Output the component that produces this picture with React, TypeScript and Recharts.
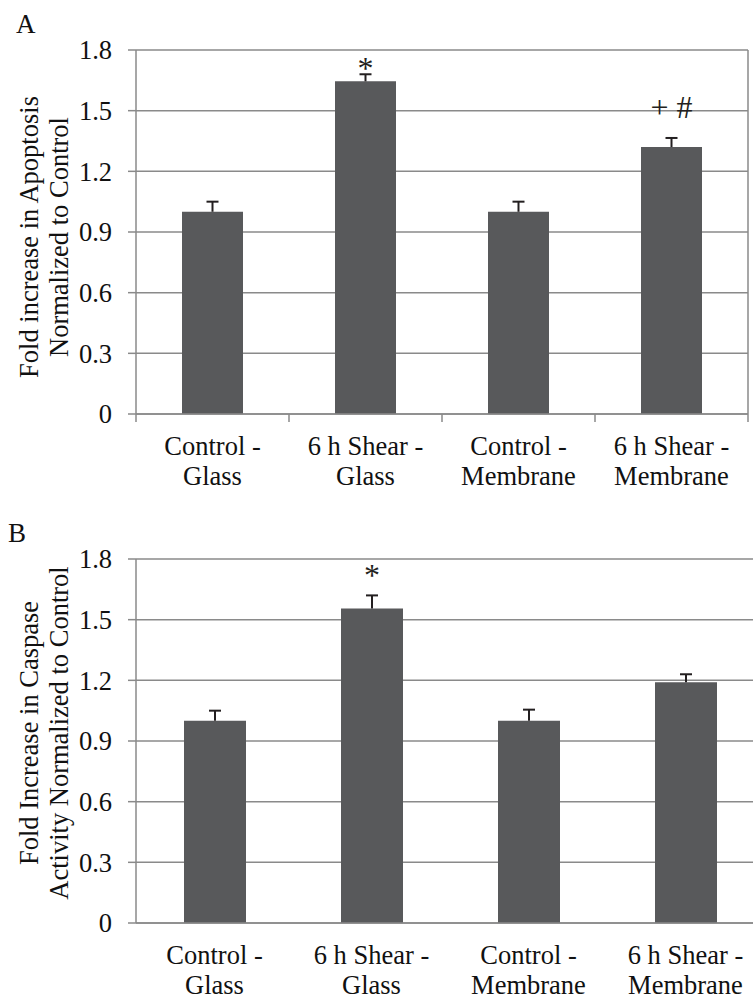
import React from 'react';
import { BarChart, Bar, XAxis, YAxis, CartesianGrid, LabelList, ReferenceLine } from 'recharts';

const categoryLine1 = ['Control -', '6 h Shear -', 'Control -', '6 h Shear -'];
const categoryLine2 = ['Glass', 'Glass', 'Membrane', 'Membrane'];
const yTicks = [0, 0.3, 0.6, 0.9, 1.2, 1.5, 1.8];

const apoptosisValues = [1.0, 1.645, 1.0, 1.32];
const apoptosisErrors = [0.05, 0.035, 0.05, 0.045];
const apoptosisMarks = ['', '*', '', '+ #'];
const apoptosisTitle = ['Fold increase in Apoptosis', 'Normalized to Control'];

const caspaseValues = [1.0, 1.555, 1.0, 1.19];
const caspaseErrors = [0.05, 0.065, 0.055, 0.04];
const caspaseMarks = ['', '*', '', ''];
const caspaseTitle = ['Fold Increase in Caspase', 'Activity Normalized to Control'];

const FONT = 'Liberation Serif';
const GRID = '#8a8a8a';
const BAR = '#58595b';
const INK = '#231f20';
const FS = 26.5;

function buildRows(values: number[], errors: number[], marks: string[]) {
  return categoryLine1.map((l1, i) => ({
    name: `${l1} ${categoryLine2[i]}`,
    value: values[i],
    err: errors[i],
    mark: marks[i],
  }));
}

const CategoryTick = (props: any) => {
  const { x, y, index, width, visibleTicksCount, boundary } = props;
  const n = visibleTicksCount || categoryLine1.length;
  const half = (width || 612) / n / 2;
  return (
    <g>
      {boundary && (
        <line x1={x - half} x2={x - half} y1={y} y2={y + 8} stroke={GRID} strokeWidth={1.5} />
      )}
      {boundary && index === n - 1 && (
        <line x1={x + half} x2={x + half} y1={y} y2={y + 8} stroke={GRID} strokeWidth={1.5} />
      )}
      <text x={x} y={y + 41} textAnchor="middle" fontFamily={FONT} style={{ fontFamily: FONT }} fontSize={FS} fill="#111">
        {categoryLine1[index]}
      </text>
      <text x={x} y={y + 71} textAnchor="middle" fontFamily={FONT} style={{ fontFamily: FONT }} fontSize={FS} fill="#111">
        {categoryLine2[index]}
      </text>
    </g>
  );
};

const makeYLabel = (lines: string[], shift: number) => (p: any) => {
  const vb = p.viewBox || { x: 0, y: 50, width: 136, height: 364 };
  const cy = vb.y + vb.height / 2 + shift;
  return (
    <g>
      {lines.map((t, i) => {
        const bx = vb.x + 38 + i * 30;
        return (
          <text
            key={i}
            x={bx}
            y={cy}
            transform={`rotate(-90, ${bx}, ${cy})`}
            textAnchor="middle"
            fontFamily={FONT}
            style={{ fontFamily: FONT }}
            fontSize={FS}
            fill="#111"
          >
            {t}
          </text>
        );
      })}
    </g>
  );
};

// error bar (upper half only) + significance mark, placed through the bar's own scaled geometry
const makeOverlay = (values: number[], errors: number[], marks: string[], dys: number[]) => (p: any) => {
  const { x, y, width, height, index } = p;
  const pxPerUnit = height / values[index];
  const errTop = y - errors[index] * pxPerUnit;
  const cx = x + width / 2;
  const text = marks[index];
  return (
    <g>
      <line x1={cx} x2={cx} y1={y} y2={errTop} stroke={INK} strokeWidth={2} />
      <line x1={cx - 6} x2={cx + 6} y1={errTop} y2={errTop} stroke={INK} strokeWidth={2} />
      {text ? (
        <text
          x={cx}
          y={errTop + dys[index]}
          textAnchor="middle"
          fontFamily={FONT}
          style={{ fontFamily: FONT }}
          fontSize={32}
          fill={INK}
        >
          {text}
        </text>
      ) : null}
    </g>
  );
};

type PanelProps = {
  values: number[];
  errors: number[];
  marks: string[];
  markDy: number[];
  title: string[];
  titleShift: number;
  width: number;
  barSize: number;
  boundary: boolean;
  rightBorder: boolean;
};

const Panel = (pp: PanelProps) => {
  const rows = buildRows(pp.values, pp.errors, pp.marks);
  return (
    <BarChart
      width={pp.width}
      height={500}
      data={rows}
      margin={{ top: 50, right: 5, bottom: 0, left: 0 }}
      barSize={pp.barSize}
    >
      <CartesianGrid vertical={false} stroke={GRID} strokeWidth={1.5} />
      <XAxis
        dataKey="name"
        height={86}
        tickLine={false}
        tickSize={0}
        tickMargin={0}
        interval={0}
        axisLine={{ stroke: GRID, strokeWidth: 1.5 }}
        tick={<CategoryTick boundary={pp.boundary} />}
      />
      <YAxis
        type="number"
        domain={[0, 1.8]}
        ticks={yTicks}
        interval={0}
        width={136}
        tickSize={8}
        tickMargin={16}
        tickFormatter={(v: number) => (v === 0 ? '0' : v.toFixed(1))}
        tick={{ fontFamily: FONT, fontSize: FS, fill: '#111', style: { fontFamily: FONT } }}
        tickLine={{ stroke: GRID, strokeWidth: 1.5 }}
        axisLine={{ stroke: GRID, strokeWidth: 1.5 }}
        label={{ content: makeYLabel(pp.title, pp.titleShift) }}
      />
      {pp.rightBorder && (
        <ReferenceLine x={rows[rows.length - 1].name} position="end" stroke={GRID} strokeWidth={1.5} />
      )}
      <Bar dataKey="value" fill={BAR} isAnimationActive={false}>
        <LabelList dataKey="mark" content={makeOverlay(pp.values, pp.errors, pp.marks, pp.markDy)} />
      </Bar>
    </BarChart>
  );
};

export default function App() {
  return (
    <div
      style={{
        position: 'absolute',
        left: 0,
        top: 0,
        width: 753,
        height: 997,
        overflow: 'hidden',
        background: '#fff',
        fontFamily: FONT,
      }}
    >
      <svg width={753} height={997} style={{ position: 'absolute', left: 0, top: 0 }}>
        <text x={16} y={33} fontFamily={FONT} style={{ fontFamily: FONT }} fontSize={27} fill="#111">A</text>
        <text x={8} y={542} fontFamily={FONT} style={{ fontFamily: FONT }} fontSize={27} fill="#111">B</text>
      </svg>
      <div style={{ position: 'absolute', left: 0, top: 0 }}>
        <Panel
          values={apoptosisValues}
          errors={apoptosisErrors}
          marks={apoptosisMarks}
          markDy={[0, 5, 0, -20]}
          title={apoptosisTitle}
          titleShift={5}
          width={753}
          barSize={61}
          boundary={true}
          rightBorder={true}
        />
      </div>
      <div style={{ position: 'absolute', left: 0, top: 509 }}>
        <Panel
          values={caspaseValues}
          errors={caspaseErrors}
          marks={caspaseMarks}
          markDy={[0, -9, 0, 0]}
          title={caspaseTitle}
          titleShift={-8}
          width={769}
          barSize={62}
          boundary={false}
          rightBorder={false}
        />
      </div>
    </div>
  );
}
